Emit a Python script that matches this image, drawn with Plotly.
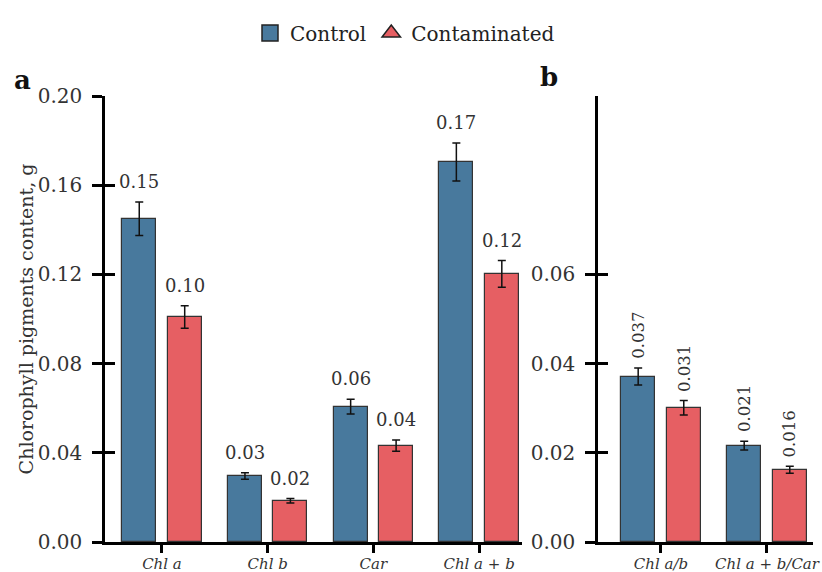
import numpy as np
import plotly.graph_objects as go

# ---- data ----
cats_a = ["Chl a", "Chl b", "Car", "Chl a + b"]
ctrl_a = [0.145, 0.0296, 0.0607, 0.1704]
ctrl_a_err = [0.0075, 0.0015, 0.0033, 0.0085]
cont_a = [0.1009, 0.0185, 0.0432, 0.1202]
cont_a_err = [0.005, 0.001, 0.0025, 0.006]
lbl_ctrl_a = ["0.15", "0.03", "0.06", "0.17"]
lbl_cont_a = ["0.10", "0.02", "0.04", "0.12"]

cats_b = ["Chl a/b", "Chl a + b/Car"]
ctrl_b = [0.0371, 0.0216]
ctrl_b_err = [0.0019, 0.0010]
cont_b = [0.0301, 0.0162]
cont_b_err = [0.0016, 0.0008]
lbl_ctrl_b = ["0.037", "0.021"]
lbl_cont_b = ["0.031", "0.016"]

ticks_a = [0.0, 0.04, 0.08, 0.12, 0.16, 0.20]
ticks_b = [0.0, 0.02, 0.04, 0.06]

BLUE = "#48799D"
RED = "#E65F63"
FONT = "DejaVu Serif"
TXT = "#333333"

W, H = 822, 572
ML, MR, MT, MB = 105, 9, 96, 30
PW = W - ML - MR
PH = H - MT - MB


def px(xp):
    return (xp - ML) / PW


def py(yp):
    return (H - MB - yp) / PH


off = 0.215
bw = 0.32

fig = go.Figure()

xa = np.arange(len(cats_a))
xb = np.arange(len(cats_b))

err_style = dict(type="data", thickness=1.5, width=4, color="#111111")
bar_line = dict(color="#333333", width=1.2)

fig.add_trace(go.Bar(x=xa - off, y=ctrl_a, width=bw, marker=dict(color=BLUE, line=bar_line),
                     error_y=dict(array=ctrl_a_err, **err_style), showlegend=False, xaxis="x", yaxis="y"))
fig.add_trace(go.Bar(x=xa + off, y=cont_a, width=bw, marker=dict(color=RED, line=bar_line),
                     error_y=dict(array=cont_a_err, **err_style), showlegend=False, xaxis="x", yaxis="y"))
fig.add_trace(go.Bar(x=xb - off, y=ctrl_b, width=bw, marker=dict(color=BLUE, line=bar_line),
                     error_y=dict(array=ctrl_b_err, **err_style), showlegend=False, xaxis="x2", yaxis="y2"))
fig.add_trace(go.Bar(x=xb + off, y=cont_b, width=bw, marker=dict(color=RED, line=bar_line),
                     error_y=dict(array=cont_b_err, **err_style), showlegend=False, xaxis="x2", yaxis="y2"))

# dummy traces for inner tick halves
fig.add_trace(go.Scatter(x=[None], y=[None], xaxis="x", yaxis="y3", showlegend=False, hoverinfo="skip"))
fig.add_trace(go.Scatter(x=[None], y=[None], xaxis="x2", yaxis="y4", showlegend=False, hoverinfo="skip"))

# legend entries
fig.add_trace(go.Scatter(x=[None], y=[None], mode="markers", name="Control",
                         marker=dict(symbol="square", size=20, color=BLUE, line=dict(color="#222222", width=1.5))))
fig.add_trace(go.Scatter(x=[None], y=[None], mode="markers", name="Contaminated",
                         marker=dict(symbol="triangle-up", size=20, color=RED, line=dict(color="#222222", width=1.5))))

annos = []
for i in range(len(cats_a)):
    annos.append(dict(x=xa[i] - off, y=ctrl_a[i] + ctrl_a_err[i], xref="x", yref="y", text=lbl_ctrl_a[i],
                      showarrow=False, yanchor="bottom", yshift=8, font=dict(family=FONT, size=18, color=TXT)))
    annos.append(dict(x=xa[i] + off, y=cont_a[i] + cont_a_err[i], xref="x", yref="y", text=lbl_cont_a[i],
                      showarrow=False, yanchor="bottom", yshift=8, font=dict(family=FONT, size=18, color=TXT)))
for i in range(len(cats_b)):
    annos.append(dict(x=xb[i] - off, y=ctrl_b[i] + ctrl_b_err[i], xref="x2", yref="y2", text=lbl_ctrl_b[i],
                      showarrow=False, yanchor="bottom", yshift=7, textangle=-90,
                      font=dict(family=FONT, size=16.5, color=TXT)))
    annos.append(dict(x=xb[i] + off, y=cont_b[i] + cont_b_err[i], xref="x2", yref="y2", text=lbl_cont_b[i],
                      showarrow=False, yanchor="bottom", yshift=7, textangle=-90,
                      font=dict(family=FONT, size=16.5, color=TXT)))

annos.append(dict(x=px(22), y=py(80), xref="paper", yref="paper", text="<b>a</b>", showarrow=False,
                  xanchor="center", yanchor="middle", font=dict(family=FONT, size=26, color="#111111")))
annos.append(dict(x=px(549), y=py(77), xref="paper", yref="paper", text="<b>b</b>",
                  showarrow=False, xanchor="center", yanchor="middle",
                  font=dict(family=FONT, size=26, color="#111111")))

line_common = dict(showline=True, linecolor="black", linewidth=2.5, ticks="outside", tickwidth=2.5,
                   tickcolor="black", showgrid=False, zeroline=False, automargin=False)
ytick_font = dict(family=FONT, size=20, color=TXT)
xtick_font = dict(family=FONT, size=15, color=TXT)

fig.update_layout(
    width=W, height=H,
    margin=dict(l=ML, r=MR, t=MT, b=MB),
    plot_bgcolor="white", paper_bgcolor="white",
    font=dict(family=FONT, color=TXT),
    xaxis=dict(domain=[0, px(522)], range=[-0.539, 3.406], tickvals=list(xa),
               ticktext=["<i>%s</i>" % c for c in cats_a], ticklen=8, tickfont=xtick_font,
               ticklabelstandoff=-2, ticklabeloverflow="allow", **line_common),
    yaxis=dict(domain=[0, 1], range=[0, 0.2], tickvals=ticks_a, tickformat=".2f", ticklen=10,
               tickfont=ytick_font, ticklabelstandoff=6,
               title=dict(text="Chlorophyll pigments content, g", font=dict(family=FONT, size=19, color=TXT),
                          standoff=0),
               **line_common),
    yaxis3=dict(overlaying="y", anchor="x", range=[0, 0.2], tickvals=ticks_a, ticks="inside", ticklen=10,
                tickwidth=2.5, tickcolor="black", showticklabels=False, showline=False, showgrid=False,
                zeroline=False, automargin=False),
    xaxis2=dict(domain=[px(598), 1], range=[-0.594, 1.434], tickvals=list(xb),
                ticktext=["<i>%s</i>" % c for c in cats_b], ticklen=8, anchor="y2", tickfont=xtick_font,
                ticklabelstandoff=-2, ticklabeloverflow="allow", **line_common),
    yaxis2=dict(domain=[0, 1], range=[0, 0.1], tickvals=ticks_b, tickformat=".2f", ticklen=10, anchor="x2",
                tickfont=ytick_font, ticklabelstandoff=6, **line_common),
    yaxis4=dict(overlaying="y2", anchor="x2", range=[0, 0.1], tickvals=ticks_b, ticks="inside", ticklen=10,
                tickwidth=2.5, tickcolor="black", showticklabels=False, showline=False, showgrid=False,
                zeroline=False, automargin=False),
    bargap=0, barmode="overlay",
    legend=dict(orientation="h", xref="container", x=250 / W, xanchor="left",
                yref="container", y=1 - 33 / H, yanchor="middle",
                font=dict(family=FONT, size=20, color="#222222"), itemwidth=30),
    annotations=annos,
)

fig.write_html("out.html", config={"displayModeBar": False},
               post_script="document.body.style.margin='0px';document.body.style.overflow='hidden';")
